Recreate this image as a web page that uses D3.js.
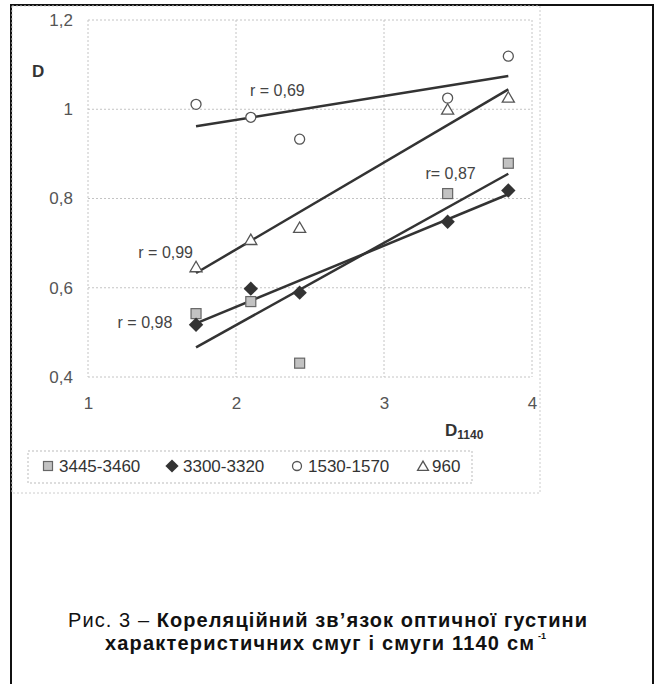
<!DOCTYPE html>
<html>
<head>
<meta charset="utf-8">
<script src="https://cdn.jsdelivr.net/npm/d3@7"></script>
<style>
  body { margin: 0; background: #fff; }
  svg { display: block; font-family: "Liberation Sans", Arial, sans-serif; }
</style>
</head>
<body>
<svg width="656" height="684"></svg>
<script>
// D1140 values (x), shared by all series
const d1140 = [1.73, 2.10, 2.43, 3.43, 3.84];

// optical density of the characteristic bands
const band3445 = [0.542, 0.569, 0.431, 0.811, 0.879];
const band3300 = [0.517, 0.598, 0.589, 0.748, 0.818];
const band1530 = [1.011, 0.982, 0.933, 1.025, 1.119];
const band960  = [0.647, 0.708, 0.735, 1.000, 1.027];

const seriesNames = ["3445-3460", "3300-3320", "1530-1570", "960"];
const rLabels = ["r= 0,87", "r = 0,98", "r = 0,69", "r = 0,99"];

const xTicks = [1, 2, 3, 4];
const yTicks = [0.4, 0.6, 0.8, 1.0, 1.2];

const svg = d3.select("svg");

// рамка
svg.append("rect")
    .attr("x", 11).attr("y", 5)
    .attr("width", 642).attr("height", 700)
    .attr("fill", "none")
    .attr("stroke", "#111")
    .attr("stroke-width", 2);

// chart panel outline
svg.append("rect")
    .attr("x", 12).attr("y", 6)
    .attr("width", 528).attr("height", 487)
    .attr("fill", "none")
    .attr("stroke", "#ccc")
    .attr("stroke-dasharray", "2,2");

const x = d3.scaleLinear().domain([1, 4]).range([88, 532]);
const y = d3.scaleLinear().domain([0.4, 1.2]).range([377, 20]);

// grid
const grid = svg.append("g").attr("stroke", "#c4c4c4").attr("stroke-dasharray", "2,2");
grid.selectAll(".gx").data(xTicks).join("line")
    .attr("x1", d => x(d)).attr("x2", d => x(d))
    .attr("y1", y(1.2)).attr("y2", y(0.4));
grid.selectAll(".gy").data(yTicks).join("line")
    .attr("x1", x(1)).attr("x2", x(4))
    .attr("y1", d => y(d)).attr("y2", d => y(d));

const comma = d => String(+d.toFixed(1)).replace(".", ",");

const yAxis = svg.append("g")
    .attr("transform", `translate(${x(1)},0)`)
    .call(d3.axisLeft(y).tickValues(yTicks).tickFormat(comma).tickSize(0).tickPadding(15));
const xAxis = svg.append("g")
    .attr("transform", `translate(0,${y(0.4)})`)
    .call(d3.axisBottom(x).tickValues(xTicks).tickFormat(d3.format("d")).tickSize(0).tickPadding(20));
[xAxis, yAxis].forEach(a => {
    a.select(".domain").remove();
    a.selectAll("text")
        .attr("font-size", 17)
        .attr("fill", "#555")
        .attr("font-family", "Liberation Sans, Arial, sans-serif");
});

// axis titles
svg.append("text").attr("x", 32).attr("y", 77)
    .attr("font-size", 17).attr("font-weight", "bold").attr("fill", "#333").text("D");
const xt = svg.append("text").attr("x", 445).attr("y", 436)
    .attr("font-size", 17).attr("font-weight", "bold").attr("fill", "#333");
xt.append("tspan").text("D");
xt.append("tspan").attr("font-size", 12).attr("dy", 3).text("1140");

// маркеры
function marker(g, type, s) {
    if (type === 0) {
        g.append("rect").attr("x", -s / 2).attr("y", -s / 2).attr("width", s).attr("height", s)
            .attr("fill", "#c2c2c2").attr("stroke", "#666").attr("stroke-width", 1.2);
    } else if (type === 1) {
        const h = s * 0.6;
        g.append("path").attr("d", `M0,${-h}L${h},0L0,${h}L${-h},0Z`).attr("fill", "#333");
    } else if (type === 2) {
        g.append("circle").attr("r", s / 2).attr("fill", "#fff")
            .attr("stroke", "#555").attr("stroke-width", 1.3);
    } else {
        const h = s * 0.55;
        g.append("path").attr("d", `M0,${-h}L${h * 1.1},${h * 0.9}L${-h * 1.1},${h * 0.9}Z`)
            .attr("fill", "#fff").attr("stroke", "#555").attr("stroke-width", 1.3);
    }
}

const allSeries = [band3445, band3300, band1530, band960];

// linear trend for each series
function fit(ys) {
    const mx = d3.mean(d1140), my = d3.mean(ys);
    const sxy = d3.sum(d1140, (v, i) => (v - mx) * (ys[i] - my));
    const sxx = d3.sum(d1140, v => (v - mx) * (v - mx));
    const k = sxy / sxx;
    return v => my + k * (v - mx);
}

const line = d3.line().x(d => x(d[0])).y(d => y(d[1]));
const x0 = d3.min(d1140), x1 = d3.max(d1140);

allSeries.forEach((ys, si) => {
    const f = fit(ys);
    svg.append("path")
        .attr("d", line([[x0, f(x0)], [x1, f(x1)]]))
        .attr("stroke", "#333")
        .attr("stroke-width", 2.5)
        .attr("fill", "none");
});

allSeries.forEach((ys, si) => {
    ys.forEach((v, i) => {
        const g = svg.append("g").attr("transform", `translate(${x(d1140[i])},${y(v)})`);
        marker(g, si, si === 1 ? 12 : 10);
    });
});

// r labels (data coords)
const rPos = [[3.28, 0.844], [1.20, 0.51], [2.095, 1.03], [1.34, 0.667]];
svg.selectAll(".rl").data(rLabels).join("text")
    .attr("x", (d, i) => x(rPos[i][0]))
    .attr("y", (d, i) => y(rPos[i][1]))
    .attr("font-size", 16)
    .attr("fill", "#444")
    .text(d => d);

// legend
svg.append("rect")
    .attr("x", 28).attr("y", 451).attr("width", 444).attr("height", 32)
    .attr("fill", "none").attr("stroke", "#bbb").attr("stroke-dasharray", "2,2");
const legX = [48, 172, 297, 423];
seriesNames.forEach((name, i) => {
    const g = svg.append("g").attr("transform", `translate(${legX[i]},466)`);
    marker(g, i, i === 1 ? 11 : 9);
    g.append("text").attr("x", i === 3 ? 9 : 11).attr("y", 6)
        .attr("font-size", 17).attr("fill", "#333").text(name);
});

// caption
const cap1 = svg.append("text").attr("x", 68).attr("y", 627)
    .attr("font-size", 20).attr("fill", "#111")
    .attr("textLength", 519).attr("lengthAdjust", "spacing");
cap1.append("tspan").text("Рис. 3 – ");
cap1.append("tspan").attr("font-weight", "bold").text("Кореляційний зв’язок оптичної густини");
svg.append("text").attr("x", 105).attr("y", 650)
    .attr("font-size", 20).attr("font-weight", "bold").attr("fill", "#111")
    .attr("textLength", 429).attr("lengthAdjust", "spacing")
    .text("характеристичних смуг і смуги 1140 см");
svg.append("text").attr("x", 538).attr("y", 639)
    .attr("font-size", 9).attr("font-weight", "bold").attr("fill", "#111").text("-1");
</script>
</body>
</html>
